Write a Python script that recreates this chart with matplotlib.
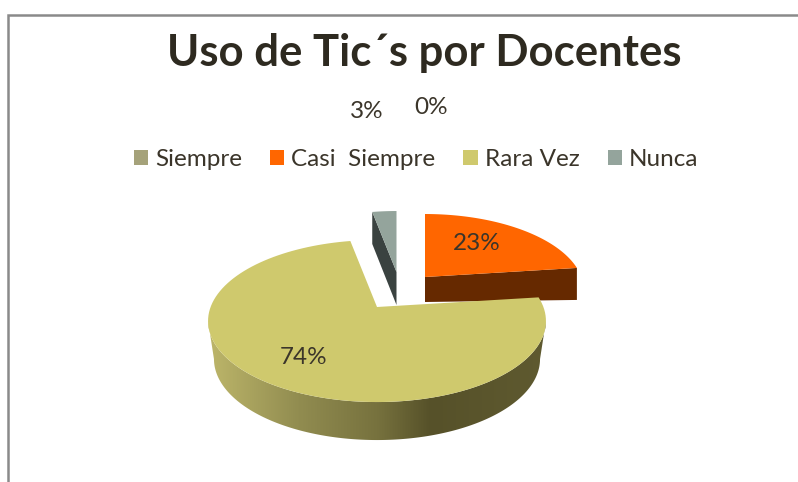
# Uso de TIC por docentes: 3D-looking exploded pie drawn in pixel coordinates.
import numpy as np
import matplotlib
matplotlib.use("Agg")
import matplotlib.pyplot as plt
from matplotlib.colors import LinearSegmentedColormap
from matplotlib.patches import Patch, Polygon

categories = ["Siempre", "Casi  Siempre", "Rara Vez", "Nunca"]
values = [0, 23, 74, 3]
colours = ["#A5A27A", "#FF6600", "#CFC96D", "#94A49C"]
ink = "#3B352A"

plt.rcParams["font.family"] = ["Lato", "DejaVu Sans"]

fig = plt.figure(figsize=(7.98, 4.82), dpi=100)
ax = fig.add_axes([0, 0, 1, 1])

# slice angles, clockwise from twelve o'clock
edges = np.cumsum([0] + values) / sum(values) * 2 * np.pi
K = 0.173  # perspective: the far side of the disc is squeezed


def rim(theta, ox, oy, scale=1.0, xs=1.0):
    u, v = np.sin(theta), np.cos(theta)
    w = 1 + K * v
    return ox + scale * xs * 166.4 * u / w, oy - scale * 78.6 * v / w


def face(i, ox, oy, scale=1.0):
    t = np.linspace(edges[i], edges[i + 1], 120)
    x, y = rim(t, ox, oy, scale)
    return np.column_stack([np.r_[ox, x], np.r_[oy, y]])


def cut_wall(theta, ox, oy, scale, d0, d1):
    x, y = rim(theta, ox, oy, scale)
    return [(ox, oy), (x, y), (x, y + d1), (ox, oy + d0)]


# Nunca, pulled out and back
ox, oy = 396.5, 272
ax.add_patch(Polygon(cut_wall(edges[3], ox, oy, 0.91, 33, 32), fc="#3A4240", ec="none", zorder=2))
ax.add_patch(Polygon(face(3, ox, oy, 0.91), fc=colours[3], ec="none", zorder=3))

# Casi Siempre, pulled out to the right
ox, oy = 425, 277
ax.add_patch(Polygon(cut_wall(edges[2], ox, oy, 0.94, 25, 32), fc="#662900", ec="none", zorder=2))
ax.add_patch(Polygon(face(1, ox, oy, 0.94), fc=colours[1], ec="none", zorder=3))

# Rara Vez: front side wall with a horizontal shade, then the top
ox, oy = 377, 307
front = np.linspace(np.arcsin(K) + np.pi / 2, 3 * np.pi / 2 - np.arcsin(K), 200)
xt, yt = rim(front, ox, oy)
xb, yb = rim(front, ox, oy + 38, xs=0.965)
wall = Polygon(np.column_stack([np.r_[xt, xb[::-1]], np.r_[yt, yb[::-1]]]), fc="none", ec="none",
               transform=ax.transData)
ax.add_patch(wall)
shade = LinearSegmentedColormap.from_list(
    "side", [(0, "#BDB66A"), (0.27, "#918C50"), (0.5, "#77723E"), (0.66, "#565129"), (1, "#5F5A30")])
img = ax.imshow(np.linspace(0, 1, 256)[None, :], cmap=shade, extent=(208, 546, 445, 280),
                aspect="auto", zorder=4)
img.set_clip_path(wall)
ax.add_patch(Polygon(face(2, ox, oy), fc=colours[2], ec="none", zorder=5))

# percent labels
label_pos = [(431, 108), (477, 243), (304, 357), (367, 112)]
for val, (lx, ly) in zip(values, label_pos):
    ax.text(lx, ly, f"{val}%", ha="center", va="center", fontsize=17.5, color=ink, zorder=6)

ax.text(424, 53, "Uso de Tic´s por Docentes", ha="center", va="center", fontsize=31.4,
        fontweight="bold", color="#2E2A20")

# chart frame, cut by the image edge
ax.plot([8, 8, 798], [482, 15, 15], color="#8A8A8A", lw=1.8, solid_joinstyle="miter")

handles = [Patch(fc=c, ec="none") for c in colours]
ax.legend(handles, categories, ncols=4, loc="center", bbox_to_anchor=(416 / 798, 1 - 160 / 482),
          frameon=False, fontsize=17.5, labelcolor=ink, handlelength=0.58, handleheight=0.58,
          handletextpad=0.3, columnspacing=1.15, bbox_transform=fig.transFigure)

ax.set_xlim(0, 798)
ax.set_ylim(482, 0)
ax.axis("off")

fig.savefig("out.png", dpi=100)
